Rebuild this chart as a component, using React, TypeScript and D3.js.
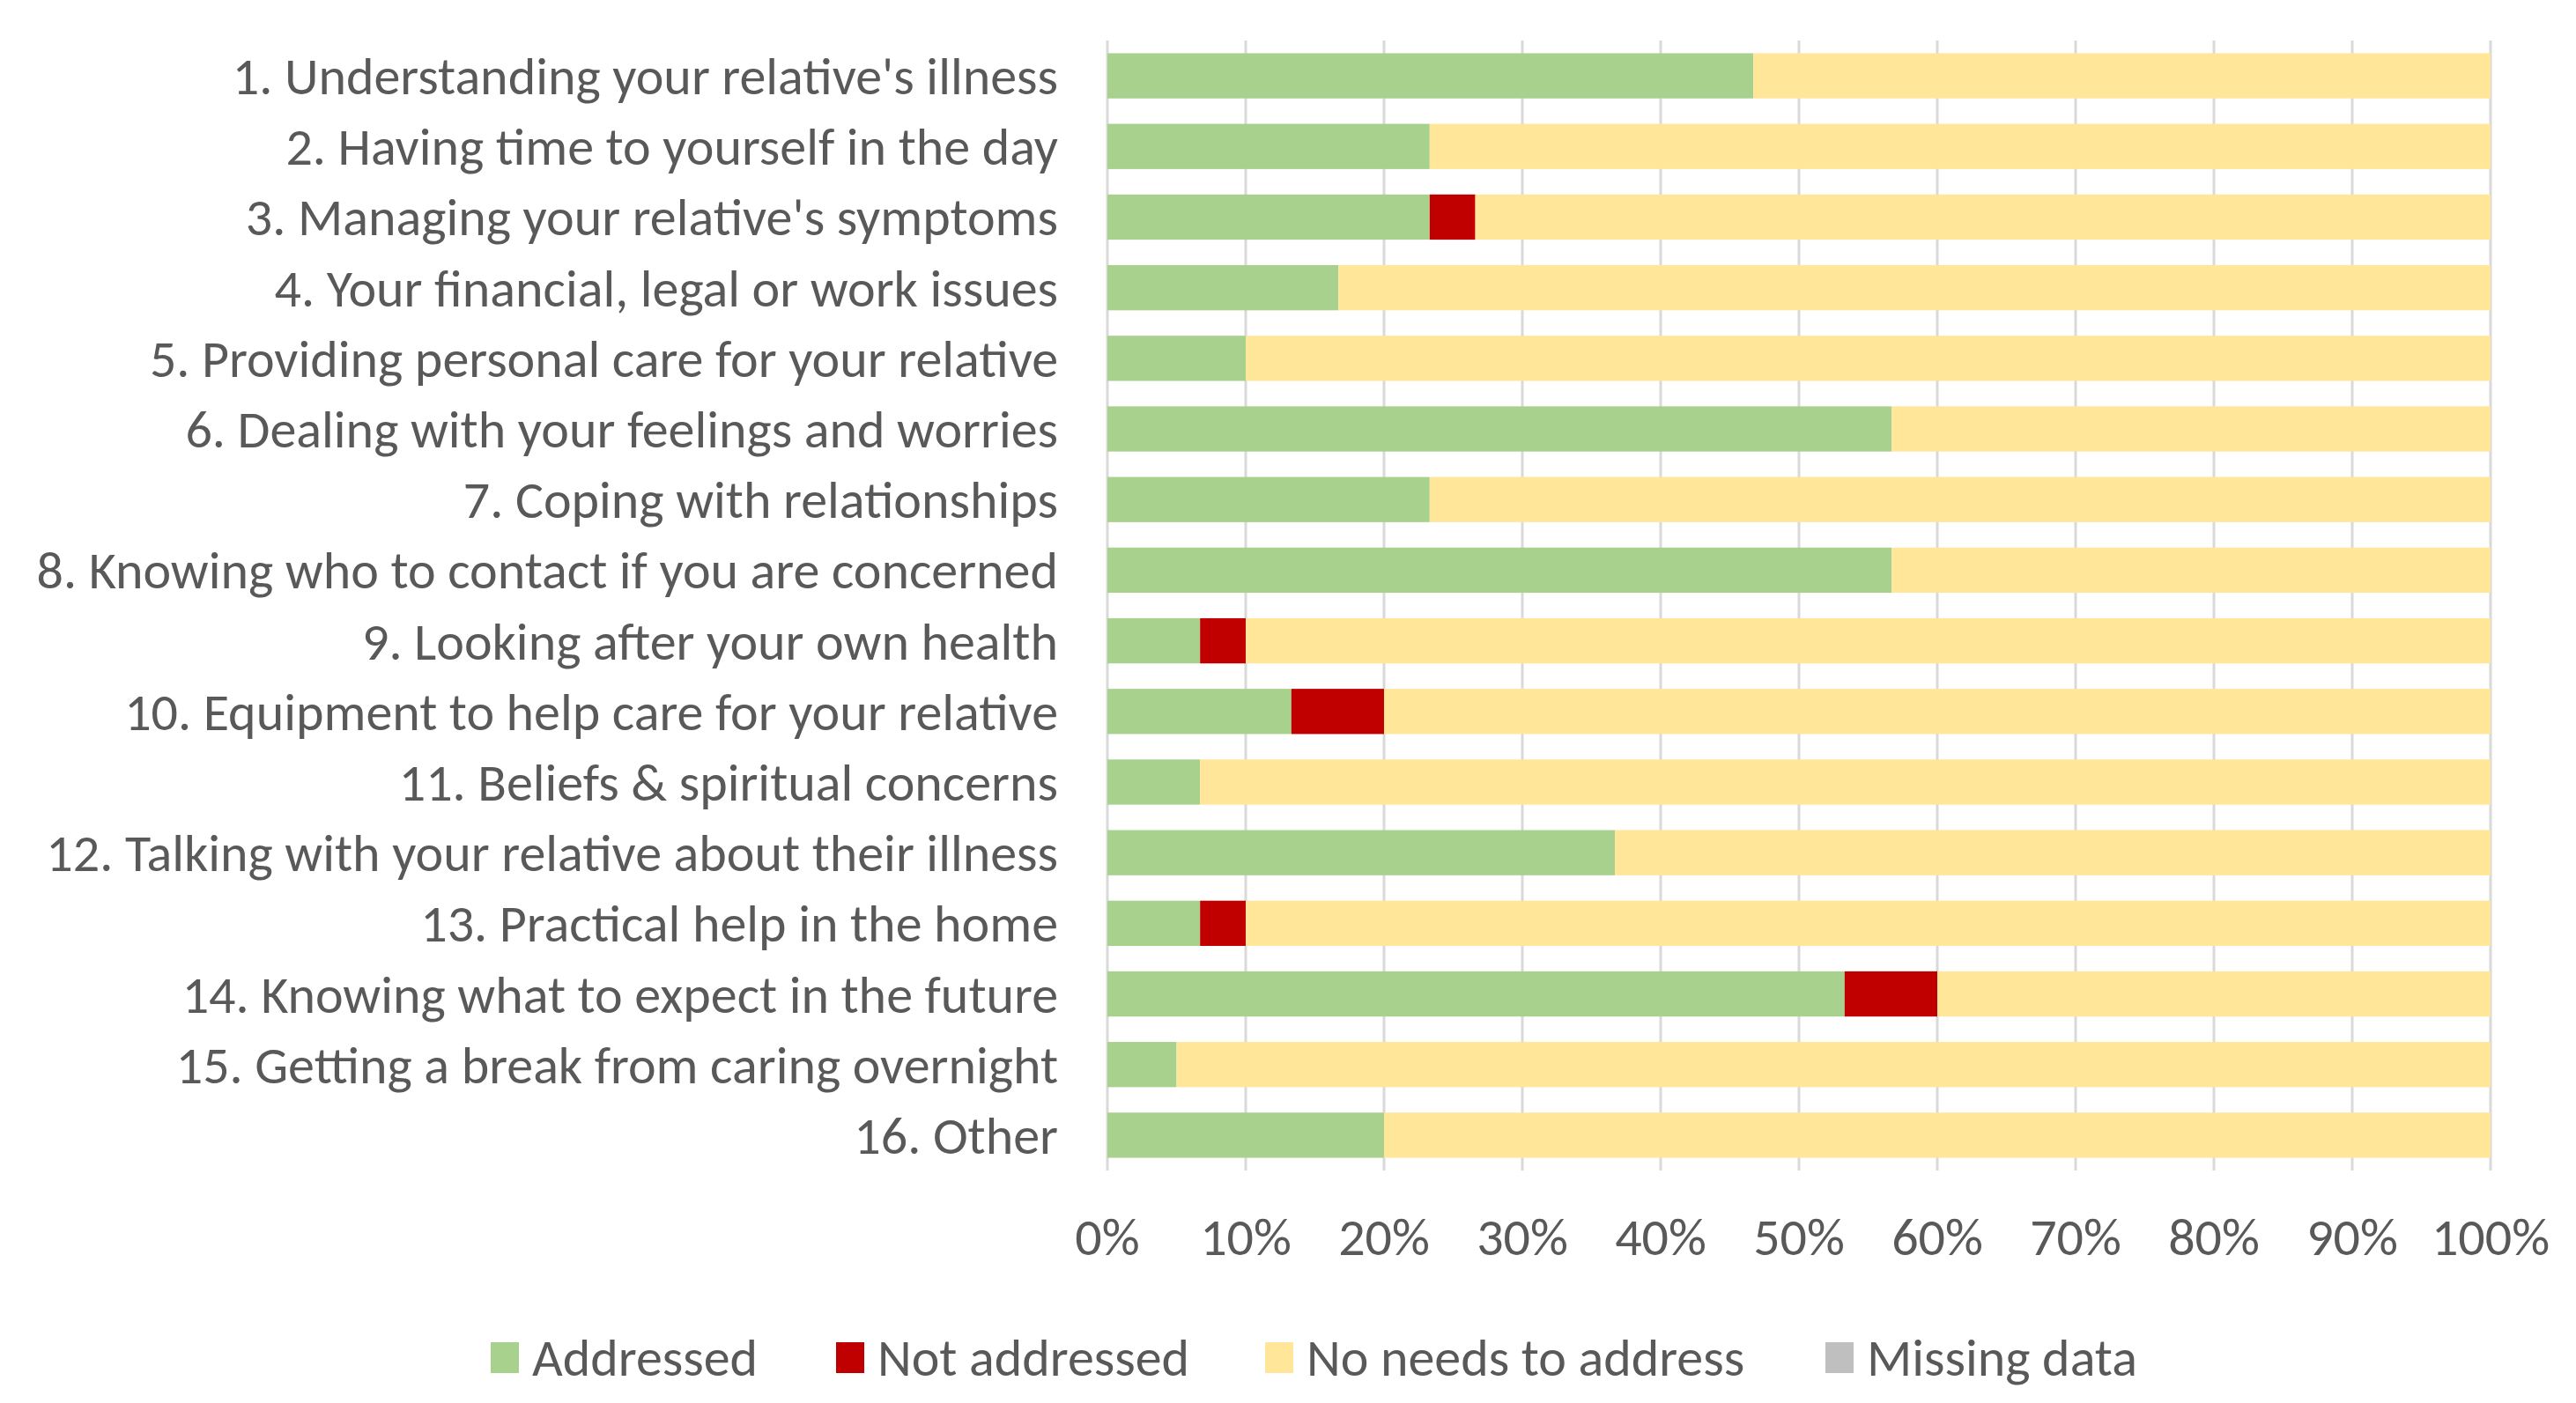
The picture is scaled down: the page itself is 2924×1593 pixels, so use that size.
import { useRef, useEffect } from 'react';
import * as d3 from 'd3';

const categories = [
	"1. Understanding your relative's illness",
	'2. Having time to yourself in the day',
	"3. Managing your relative's symptoms",
	'4. Your financial, legal or work issues',
	'5. Providing personal care for your relative',
	'6. Dealing with your feelings and worries',
	'7. Coping with relationships',
	'8. Knowing who to contact if you are concerned',
	'9. Looking after your own health',
	'10. Equipment to help care for your relative',
	'11. Beliefs & spiritual concerns',
	'12. Talking with your relative about their illness',
	'13. Practical help in the home',
	'14. Knowing what to expect in the future',
	'15. Getting a break from caring overnight',
	'16. Other',
];

const addressed = [46.7, 23.3, 23.3, 16.7, 10, 56.7, 23.3, 56.7, 6.7, 13.3, 6.7, 36.7, 6.7, 53.3, 5, 20];
const notAddressed = [0, 0, 3.3, 0, 0, 0, 0, 0, 3.3, 6.7, 0, 0, 3.3, 6.7, 0, 0];
const missingData = [0, 0, 0, 0, 0, 0, 0, 0, 0, 0, 0, 0, 0, 0, 0, 0];
const noNeeds = categories.map(
	(_, i) => 100 - addressed[i] - notAddressed[i] - missingData[i],
);

const seriesNames = ['Addressed', 'Not addressed', 'No needs to address', 'Missing data'];
const seriesColors = ['#A9D18E', '#C00000', '#FFE699', '#BFBFBF'];
const xTicks = [0, 10, 20, 30, 40, 50, 60, 70, 80, 90, 100];

const WIDTH = 2924;
const HEIGHT = 1593;
const FONT = "Carlito, Calibri, Lato, 'Open Sans', sans-serif";
const FONT_SIZE = 60;
const TEXT_COLOR = '#595959';

export default function App() {
	const svgRef = useRef<SVGSVGElement>(null);

	useEffect(() => {
		const svg = d3.select(svgRef.current);
		svg.selectAll('*').remove();

		const plot = { left: 1257, right: 2827, top: 46, bottom: 1329 };

		const x = d3.scaleLinear().domain([0, 100]).range([plot.left, plot.right]);
		const y = d3
			.scaleBand<string>()
			.domain(categories)
			.range([plot.top, plot.bottom])
			.paddingInner(0.36)
			.paddingOuter(0.18);

		// gridlines
		svg.append('g')
			.selectAll('line')
			.data(xTicks)
			.join('line')
			.attr('x1', (d) => x(d))
			.attr('x2', (d) => x(d))
			.attr('y1', plot.top)
			.attr('y2', plot.bottom)
			.attr('stroke', '#D9D9D9')
			.attr('stroke-width', 3);

		// stacked bars (order: addressed, not addressed, no needs, missing)
		const rows = categories.map((c, i) => ({
			cat: c,
			vals: [addressed[i], notAddressed[i], noNeeds[i], missingData[i]],
		}));
		const barG = svg.append('g');
		rows.forEach((r) => {
			let acc = 0;
			r.vals.forEach((v, k) => {
				if (v > 0) {
					barG.append('rect')
						.attr('x', x(acc))
						.attr('y', y(r.cat)!)
						.attr('width', x(acc + v) - x(acc))
						.attr('height', y.bandwidth())
						.attr('fill', seriesColors[k]);
				}
				acc += v;
			});
		});

		// category labels
		svg.append('g')
			.selectAll('text')
			.data(categories)
			.join('text')
			.attr('x', plot.left - 56)
			.attr('y', (d) => y(d)! + y.bandwidth() / 2)
			.attr('dy', '0.35em')
			.attr('text-anchor', 'end')
			.attr('font-size', FONT_SIZE)
			.attr('fill', TEXT_COLOR)
			.text((d) => d);

		// x tick labels
		svg.append('g')
			.selectAll('text')
			.data(xTicks)
			.join('text')
			.attr('x', (d) => x(d))
			.attr('y', 1404)
			.attr('dy', '0.35em')
			.attr('text-anchor', 'middle')
			.attr('font-size', FONT_SIZE)
			.attr('fill', TEXT_COLOR)
			.text((d) => `${d}%`);

		// legend
		const legendX = [557, 949, 1436, 2072];
		const legend = svg.append('g');
		seriesNames.forEach((name, k) => {
			legend.append('rect')
				.attr('x', legendX[k])
				.attr('y', 1541 - 17)
				.attr('width', 32)
				.attr('height', 35)
				.attr('fill', seriesColors[k]);
			legend.append('text')
				.attr('x', legendX[k] + 47)
				.attr('y', 1541)
				.attr('dy', '0.35em')
				.attr('font-size', FONT_SIZE)
				.attr('fill', TEXT_COLOR)
				.text(name);
		});
	}, []);

	return (
		<svg
			ref={svgRef}
			width={WIDTH}
			height={HEIGHT}
			style={{
				position: 'absolute',
				left: 0,
				top: 0,
				background: '#fff',
				fontFamily: FONT,
				display: 'block',
			}}
		/>
	);
}
